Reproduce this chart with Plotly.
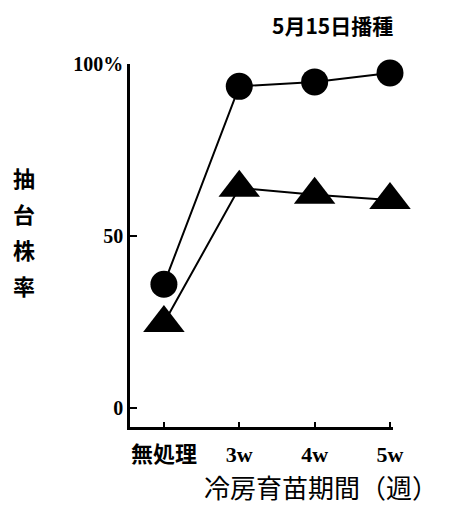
import plotly.graph_objects as go

categories = ["無処理", "3w", "4w", "5w"]
x_pos = [0, 1, 2, 3]
circle_vals = [36, 93.5, 94.8, 97.4]
triangle_vals = [24.7, 64, 62, 60.5]
y_tickvals = [0, 50, 100]
y_ticktext = ["0", "50", "100%"]
y_title_chars = ["抽", "台", "株", "率"]

font_family = "Noto Sans CJK JP"
serif = "Liberation Serif, Noto Sans CJK JP"

# page has an 8px body margin; figure sized to compensate
OFF = 8
W, H = 449 - OFF, 506 - OFF
l, r, t, b = 130 - OFF, 56, 64 - OFF, 79
pw, ph = W - l - r, H - t - b


def px2paper(px, py):
    return (px - OFF - l) / pw, (H - b - (py - OFF)) / ph


fig = go.Figure()
fig.add_trace(go.Scatter(
    x=x_pos, y=circle_vals, mode="lines+markers",
    line=dict(color="black", width=2),
    marker=dict(symbol="circle", size=27, color="black"),
    showlegend=False, cliponaxis=False))
fig.add_trace(go.Scatter(
    x=x_pos, y=triangle_vals, mode="lines+markers",
    line=dict(color="black", width=2),
    marker=dict(symbol="triangle-up", size=36, color="black"),
    showlegend=False, cliponaxis=False))

annotations = []
tx, ty = px2paper(332, 25)
annotations.append(dict(text="5月15日播種", x=tx, y=ty, xref="paper", yref="paper",
                        xanchor="center", yanchor="middle", showarrow=False,
                        font=dict(size=21, family=font_family, weight="bold")))
for i, ch in enumerate(y_title_chars):
    ax, ay = px2paper(24, 177 + 36 * i)
    annotations.append(dict(text=ch, x=ax, y=ay, xref="paper", yref="paper",
                            xanchor="center", yanchor="middle", showarrow=False,
                            font=dict(size=22, family=font_family, weight="bold")))
xt, yt = px2paper(321, 487)
annotations.append(dict(text="冷房育苗期間（週）", x=xt, y=yt, xref="paper", yref="paper",
                        xanchor="center", yanchor="middle", showarrow=False,
                        font=dict(size=26, family=font_family)))

fig.update_layout(
    width=W, height=H,
    margin=dict(l=l, r=r, t=t, b=b, autoexpand=False),
    paper_bgcolor="white", plot_bgcolor="white",
    font=dict(family=font_family, color="black", size=16),
    xaxis=dict(
        range=[-0.45, 3.04], tickvals=x_pos, ticktext=categories,
        showline=True, linecolor="black", linewidth=2.5,
        ticks="inside", ticklen=5, tickwidth=2, tickcolor="black",
        showgrid=False, zeroline=False, automargin=False,
        ticklabelstandoff=6,
        tickfont=dict(size=22, family=serif, weight="bold"),
    ),
    yaxis=dict(
        range=[-5.5, 100], tickvals=y_tickvals, ticktext=y_ticktext,
        showline=True, linecolor="black", linewidth=2.5,
        ticks="inside", ticklen=7, tickwidth=2, tickcolor="black",
        showgrid=False, zeroline=False, automargin=False,
        tickfont=dict(size=20, family=serif, weight="bold"),
    ),
    annotations=annotations,
)

fig.write_html("out.html")
